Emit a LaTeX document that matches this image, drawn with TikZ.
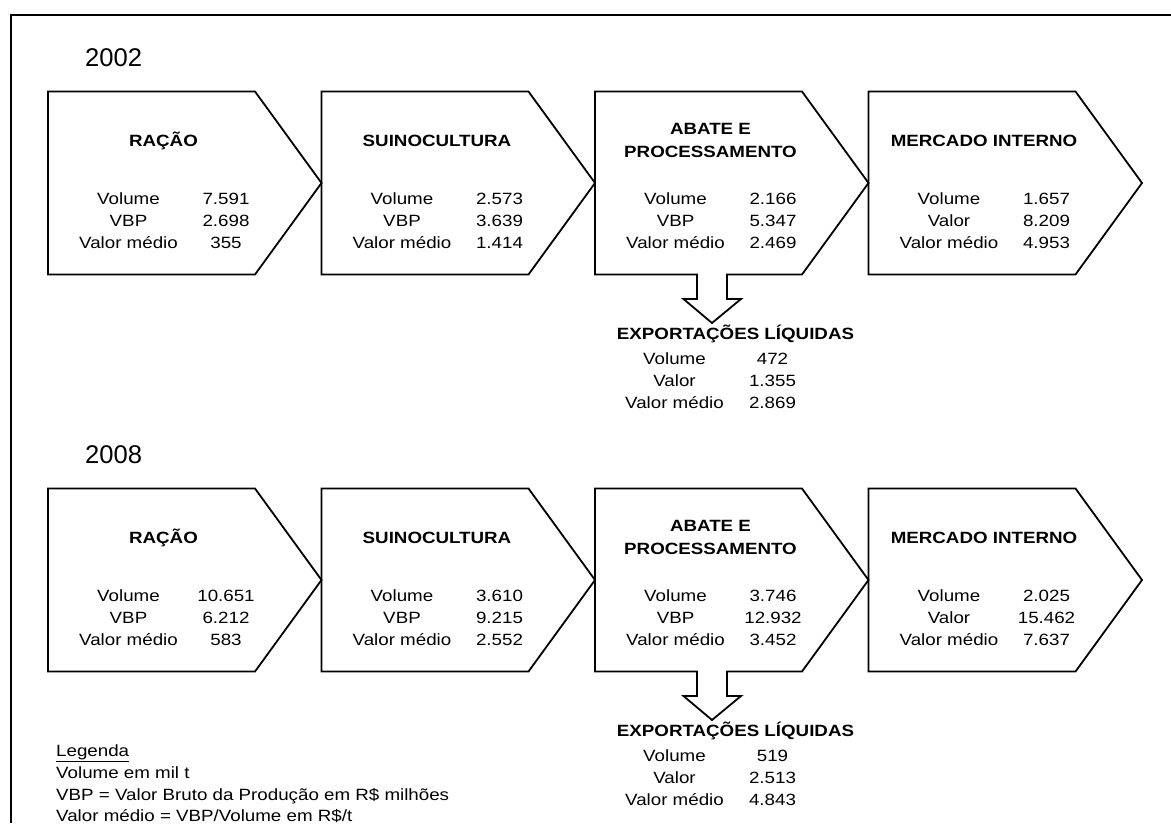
\documentclass[tikz,border=0pt]{standalone}
\usepackage{fontspec}
\setmainfont{Liberation Sans}
\newfontfamily\bodyf[FakeStretch=1.15]{Liberation Sans}
\tikzset{
  boxline/.style={draw=black,line width=1.8pt,line join=miter},
  frameline/.style={draw=black,line width=1.9pt},
  lbl/.style={anchor=base,inner sep=0pt,font=\bodyf\fontsize{16.3}{19}\selectfont},
  ttl/.style={anchor=base,inner sep=0pt,font=\bodyf\bfseries\fontsize{16.3}{19}\selectfont},
  yr/.style={anchor=base west,inner sep=0pt,font=\fontsize{25.6}{30}\selectfont},
  leg/.style={anchor=base west,inner sep=0pt,font=\bodyf\fontsize{16.3}{19}\selectfont},
}
% #1 left x
\newcommand\stageshape[1]{%
  \draw[boxline] (#1,91.5) -- ++(207,0) -- ++(66.5,91.5) -- ++(-66.5,91.5) -- ++(-207,0) -- cycle;}
% #1 name, #2 left x, #3..#8 labels and values
\newcommand\stagerows[8]{%
  \node[lbl] (#1la) at (#2+80.5,204.5) {#3};
  \node[lbl] (#1va) at (#2+178,204.5) {#4};
  \node[lbl] (#1lb) at (#2+80.5,226.7) {#5};
  \node[lbl] (#1vb) at (#2+178,226.7) {#6};
  \node[lbl] (#1lc) at (#2+80.5,248.9) {#7};
  \node[lbl] (#1vc) at (#2+178,248.9) {#8};}
\newcommand\exportblock[4]{% #1 prefix, #2 volume, #3 valor, #4 medio
  \node[ttl] (#1ex) at (735.5,339.5) {EXPORTAÇÕES LÍQUIDAS};
  \node[lbl] (#1exla) at (674.5,364) {Volume};
  \node[lbl] (#1exva) at (772.5,364) {#2};
  \node[lbl] (#1exlb) at (674.5,386.3) {Valor};
  \node[lbl] (#1exvb) at (772.5,386.3) {#3};
  \node[lbl] (#1exlc) at (674.5,408.6) {Valor médio};
  \node[lbl] (#1exvc) at (772.5,408.6) {#4};}
\newcommand\chainshapes{%
  \stageshape{48}
  \stageshape{321.5}
  \draw[boxline] (595,91.5) -- (802,91.5) -- (868.5,183) -- (802,274.5)
     -- (727,274.5) -- (727,299) -- (741,299) -- (712,323) -- (683.5,299)
     -- (697,299) -- (697,274.5) -- (595,274.5) -- cycle;
  \stageshape{868.5}
  \node[ttl] (tA) at (48+115.5,146.5) {RAÇÃO};
  \node[ttl] (tB) at (321.5+115.5,146.5) {SUINOCULTURA};
  \node[ttl] (tC1) at (595+115.5,134.5) {ABATE E};
  \node[ttl] (tC2) at (595+115.5,157.5) {PROCESSAMENTO};
  \node[ttl] (tD) at (868.5+115.5,146.5) {MERCADO INTERNO};}
\begin{document}
\begin{tikzpicture}[x=1pt,y=-1pt]
\useasboundingbox (0,0) rectangle (1171,823);
\fill[white] (0,0) rectangle (1171,823);
\draw[frameline] (1171,15) -- (11,15) -- (11,823);
% ---------- 2002 ----------
\node[yr] (y2002) at (85,66.7) {2002};
\begin{scope}[name prefix=p02-]
\chainshapes
\stagerows{a}{48}{Volume}{7.591}{VBP}{2.698}{Valor médio}{355}
\stagerows{b}{321.5}{Volume}{2.573}{VBP}{3.639}{Valor médio}{1.414}
\stagerows{c}{595}{Volume}{2.166}{VBP}{5.347}{Valor médio}{2.469}
\stagerows{d}{868.5}{Volume}{1.657}{Valor}{8.209}{Valor médio}{4.953}
\exportblock{e}{472}{1.355}{2.869}
\end{scope}
% ---------- 2008 ----------
\node[yr] (y2008) at (85,463.5) {2008};
\begin{scope}[yshift=-397pt,name prefix=p08-]
\chainshapes
\stagerows{a}{48}{Volume}{10.651}{VBP}{6.212}{Valor médio}{583}
\stagerows{b}{321.5}{Volume}{3.610}{VBP}{9.215}{Valor médio}{2.552}
\stagerows{c}{595}{Volume}{3.746}{VBP}{12.932}{Valor médio}{3.452}
\stagerows{d}{868.5}{Volume}{2.025}{Valor}{15.462}{Valor médio}{7.637}
\exportblock{e}{519}{2.513}{4.843}
\end{scope}
% ---------- legend ----------
\node[leg] (lg0) at (56,756.7) {\underline{Legenda}};
\node[leg] (lg1) at (56,778.3) {Volume em mil t};
\node[leg] (lg2) at (56,800) {VBP = Valor Bruto da Produção em R\$ milhões};
\node[leg] (lg3) at (56,821.7) {Valor médio = VBP/Volume em R\$/t};
\end{tikzpicture}
\end{document}
